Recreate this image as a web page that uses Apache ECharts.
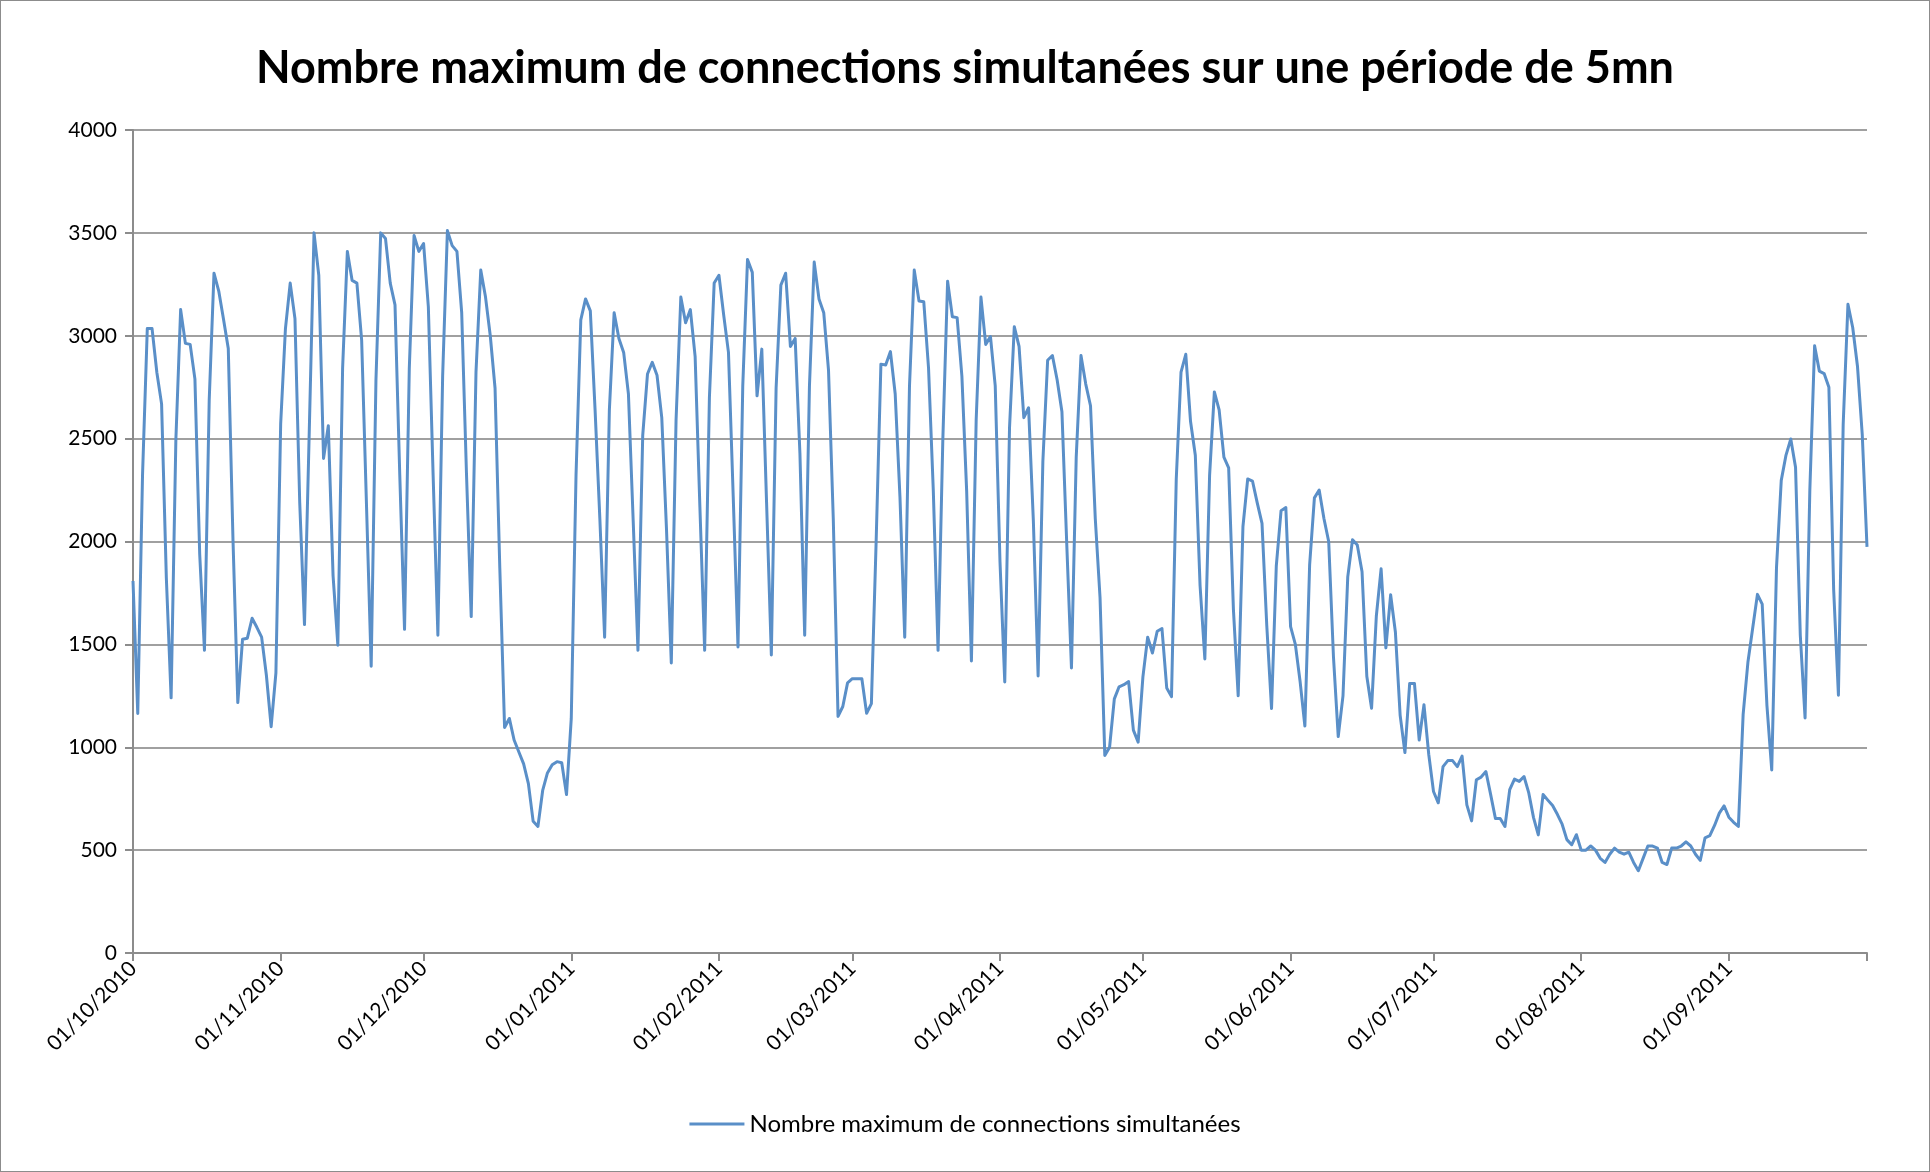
<!DOCTYPE html>
<html>
<head>
<meta charset="utf-8">
<script src="https://cdn.jsdelivr.net/npm/echarts@6/dist/echarts.min.js"></script>
<style>
  html, body { margin: 0; padding: 0; background: #fff; }
  #chart { width: 1930px; height: 1172px; box-sizing: border-box; border: 1px solid #8c8c8c; }
</style>
</head>
<body>
<div id="chart"></div>
<script>
// valeurs, un tableau par mois
const oct2010 = [1808, 1164, 2323, 3035, 3035, 2823, 2669, 1823, 1240, 2496, 3127, 2963, 2958, 2789, 1939, 1471,
  2689, 3304, 3217, 3080, 2938, 2000, 1217, 1525, 1530, 1627, 1583, 1535, 1350, 1100, 1362]
const nov2010 = [2573, 3035, 3256, 3083, 2188, 1596, 2535, 3500, 3294, 2404, 2563, 1833, 1496, 2842, 3410,
  3269, 3256, 2977, 2188, 1394, 2785, 3500, 3473, 3256, 3150, 2323, 1573, 2842, 3487, 3410]
const dec2010 = [3448, 3140, 2323, 1544, 2804, 3511, 3438, 3410, 3112, 2333, 1635, 2823, 3319, 3188, 3000,
  2746, 1871, 1096, 1140, 1035, 977, 919, 823, 640, 615, 790, 875, 915, 930, 925, 770]
const jan2011 = [1140, 2323, 3077, 3179, 3121, 2640, 2112, 1535, 2640, 3112, 2987, 2919, 2717, 2100, 1471,
  2516, 2814, 2871, 2808, 2602, 2054, 1410, 2592, 3188, 3063, 3127, 2900, 2169, 1471, 2700, 3256]
const feb2011 = [3294, 3100, 2919, 2217, 1487, 2756, 3371, 3308, 2708, 2935, 2188, 1448, 2746, 3246, 3304,
  2948, 2987, 2429, 1544, 2756, 3358, 3179, 3112, 2833, 2112, 1150, 1198, 1313]
const mar2011 = [1333, 1333, 1333, 1165, 1212, 2000, 2862, 2858, 2923, 2717, 2217, 1535, 2756, 3319, 3169,
  3165, 2842, 2246, 1471, 2496, 3265, 3092, 3088, 2804, 2246, 1419, 2592, 3188, 2958, 2996, 2756]
const apr2011 = [1900, 1317, 2554, 3044, 2948, 2602, 2650, 2102, 1346, 2390, 2881, 2904, 2785, 2631, 1996,
  1385, 2410, 2904, 2765, 2660, 2112, 1727, 960, 1000, 1235, 1294, 1304, 1319, 1083, 1025]
const may2011 = [1342, 1535, 1458, 1564, 1577, 1288, 1246, 2304, 2823, 2910, 2583, 2419, 1785, 1429, 2323,
  2727, 2640, 2410, 2358, 1669, 1250, 2073, 2304, 2294, 2188, 2088, 1592, 1188, 1881, 2150, 2165]
const jun2011 = [1586, 1500, 1319, 1103, 1888, 2212, 2250, 2112, 2000, 1440, 1052, 1250, 1828, 2009, 1983,
  1853, 1345, 1190, 1638, 1867, 1483, 1741, 1560, 1155, 974, 1310, 1310, 1035, 1207, 966]
const jul2011 = [785, 730, 906, 935, 935, 906, 957, 720, 642, 842, 855, 882, 770, 654, 654, 615, 794, 845,
  834, 858, 778, 658, 574, 770, 743, 717, 674, 626, 551, 526, 575]
const aug2011 = [500, 500, 520, 500, 460, 440, 480, 510, 490, 480, 490, 440, 400, 460, 520, 520, 510, 440,
  430, 510, 510, 520, 540, 520, 480, 450, 560, 570, 620, 680, 715]
const sep2011 = [660, 635, 615, 1160, 1413, 1578, 1743, 1696, 1201, 890, 1873, 2297, 2420, 2498, 2361, 1543,
  1142, 2250, 2951, 2828, 2816, 2750, 1767, 1253, 2569, 3153, 3040, 2852, 2521, 1974]

const values = [].concat(oct2010, nov2010, dec2010, jan2011, feb2011, mar2011,
  apr2011, may2011, jun2011, jul2011, aug2011, sep2011)

const yTicks = [0, 500, 1000, 1500, 2000, 2500, 3000, 3500, 4000]

// une catégorie par jour, du 01/10/2010 au 30/09/2011
const dates = []
for (let i = 0; i < values.length; i++) {
  const d = new Date(Date.UTC(2010, 9, 1 + i))
  const dd = String(d.getUTCDate()).padStart(2, '0')
  const mm = String(d.getUTCMonth() + 1).padStart(2, '0')
  dates.push(dd + '/' + mm + '/' + d.getUTCFullYear())
}

const seriesName = 'Nombre maximum de connections simultanées'
const font = 'Lato, "Open Sans", sans-serif'

const chart = echarts.init(document.getElementById('chart'))

const option = {
  animation: false,
  title: {
    text: 'Nombre maximum de connections simultanées sur une période de 5mn',
    left: 'center',
    top: 40,
    textStyle: { fontFamily: font, fontWeight: 'bold', fontSize: 45, color: '#000' }
  },
  legend: {
    data: [{ name: seriesName, icon: 'rect' }],
    bottom: 30,
    left: 'center',
    itemWidth: 55,
    itemHeight: 3,
    itemGap: 6,
    textStyle: { fontFamily: font, fontSize: 24, color: '#000' }
  },
  grid: {
    left: 132,
    right: 62,
    top: 129,
    bottom: 218,
    containLabel: false
  },
  xAxis: {
    type: 'category',
    boundaryGap: false,
    data: dates,
    axisLine: { lineStyle: { color: '#8c8c8c', width: 2 } },
    axisTick: {
      length: 8,
      interval: (idx, val) => val.startsWith('01/') || idx === dates.length - 1,
      lineStyle: { color: '#8c8c8c', width: 2 }
    },
    axisLabel: {
      interval: (idx, val) => val.startsWith('01/'),
      rotate: 45,
      margin: 12,
      fontFamily: font,
      fontSize: 21,
      color: '#000'
    },
    splitLine: { show: false }
  },
  yAxis: {
    type: 'value',
    min: yTicks[0],
    max: yTicks[yTicks.length - 1],
    interval: 500,
    axisLine: { show: true, lineStyle: { color: '#8c8c8c', width: 2 } },
    axisTick: { show: true, length: 8, lineStyle: { color: '#8c8c8c', width: 2 } },
    axisLabel: {
      fontFamily: font,
      fontSize: 21,
      color: '#000',
      margin: 16,
      formatter: v => String(v)
    },
    splitLine: { lineStyle: { color: '#a0a0a0', width: 2 } }
  },
  series: [
    {
      name: seriesName,
      type: 'line',
      data: values,
      symbol: 'none',
      lineStyle: { color: '#5a8fc8', width: 3, join: 'round' },
      itemStyle: { color: '#5a8fc8' }
    }
  ]
}

chart.setOption(option)
</script>
</body>
</html>
